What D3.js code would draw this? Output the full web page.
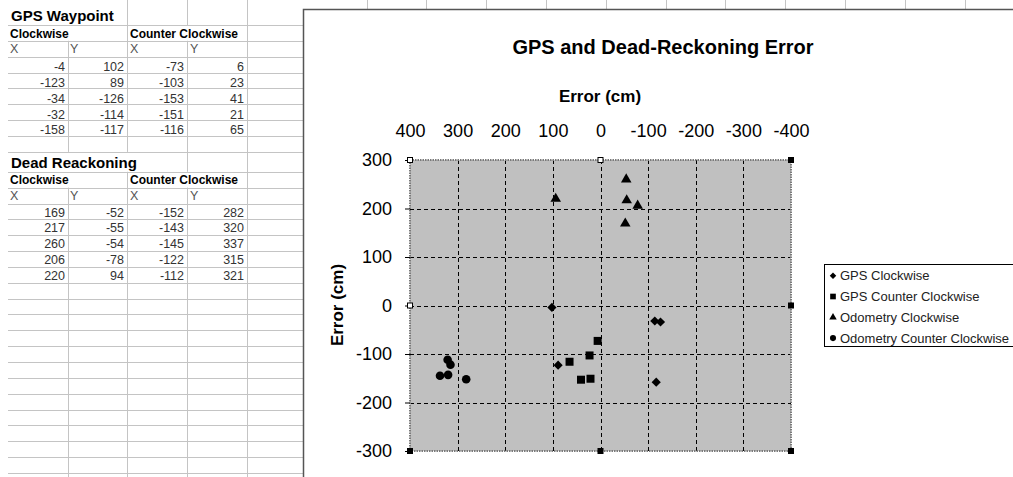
<!DOCTYPE html>
<html>
<head>
<meta charset="utf-8">
<script src="https://cdn.jsdelivr.net/npm/d3@7"></script>
<style>
  body { margin: 0; background: #fff; }
  svg { display: block; font-family: "Liberation Sans", Arial, sans-serif; }
</style>
</head>
<body>
<svg id="sheet" width="1013" height="477"></svg>
<script>
// table values, as typed in the sheet
const gpsCwX = [-4, -123, -34, -32, -158];
const gpsCwY = [102, 89, -126, -114, -117];
const gpsCcwX = [-73, -103, -153, -151, -116];
const gpsCcwY = [6, 23, 41, 21, 65];

const drCwX = [169, 217, 260, 206, 220];
const drCwY = [-52, -55, -54, -78, 94];
const drCcwX = [-152, -143, -145, -122, -112];
const drCcwY = [282, 320, 337, 315, 321];

const seriesNames = ["GPS Clockwise", "GPS Counter Clockwise", "Odometry Clockwise", "Odometry Counter Clockwise"];
const xTicks = [400, 300, 200, 100, 0, -100, -200, -300, -400];
const yTicks = [300, 200, 100, 0, -100, -200, -300];

const svg = d3.select("#sheet");

// ---- spreadsheet grid ----
const grid = svg.append("g").attr("stroke", "#c4c4c4").attr("stroke-width", 1);
const rowLines = [25, 40.8, 56.7, 72.6, 88.4, 104.3, 120.1, 136, 151.9];
for (let k = 0; k < 20; k++) rowLines.push(171.8 + k * 15.85);
grid.selectAll("line.h").data(rowLines).join("line")
  .attr("class", "h")
  .attr("x1", 8).attr("x2", 303)
  .attr("y1", d => Math.round(d) + 0.5).attr("y2", d => Math.round(d) + 0.5);

// vertical column lines, with gaps where header text spills over
const colLines = [
  { x: 67.5, gaps: [[0, 40.8], [151.9, 187.6]] },
  { x: 127, gaps: [[151.9, 171.8]] },
  { x: 187, gaps: [[25, 40.8], [171.8, 187.6]] },
  { x: 247, gaps: [] }
];
colLines.forEach(c => {
  let segs = [], start = 0;
  c.gaps.forEach(g => { segs.push([start, g[0]]); start = g[1]; });
  segs.push([start, 477]);
  segs.forEach(s => {
    grid.append("line")
      .attr("x1", Math.round(c.x) + 0.5).attr("x2", Math.round(c.x) + 0.5)
      .attr("y1", s[0]).attr("y2", s[1]);
  });
});
// sheet column marks showing above the chart
d3.range(12).map(i => 366.6 + i * 59.8).forEach(x => {
  grid.append("line").attr("x1", Math.round(x) + 0.5).attr("x2", Math.round(x) + 0.5)
    .attr("y1", 0).attr("y2", 9);
});

// ---- table text ----
const tbl = svg.append("g");
function block(title, pos, cwX, cwY, ccwX, ccwY) {
  tbl.append("text").attr("x", 11).attr("y", pos.title)
    .attr("font-size", 15).attr("font-weight", "bold").text(title);
  tbl.append("text").attr("x", 10).attr("y", pos.head)
    .attr("font-size", 12).attr("font-weight", "bold").text("Clockwise");
  tbl.append("text").attr("x", 130).attr("y", pos.head)
    .attr("font-size", 12).attr("font-weight", "bold").text("Counter Clockwise");
  [[10, "X"], [70, "Y"], [130, "X"], [190, "Y"]].forEach(([x, t]) => {
    tbl.append("text").attr("x", x).attr("y", pos.xy)
      .attr("font-size", 12.5).attr("fill", "#555").text(t);
  });
  const cols = [[65, cwX], [124, cwY], [184, ccwX], [244, ccwY]];
  cols.forEach(([x, vals]) => {
    tbl.selectAll(null).data(vals).join("text")
      .attr("x", x)
      .attr("y", (d, i) => pos.data + i * 15.85)
      .attr("text-anchor", "end")
      .attr("font-size", 12.5)
      .attr("fill", "#333")
      .text(d => d);
  });
}
block("GPS Waypoint", { title: 21, head: 37.5, xy: 53, data: 71 }, gpsCwX, gpsCwY, gpsCcwX, gpsCcwY);
block("Dead Reackoning", { title: 167.5, head: 184.3, xy: 200, data: 216.5 }, drCwX, drCwY, drCcwX, drCcwY);

// ---- chart object ----
svg.append("rect")
  .attr("x", 303.5).attr("y", 9.5).attr("width", 720).attr("height", 480)
  .attr("fill", "#fff").attr("stroke", "#555").attr("stroke-width", 1.5);

svg.append("text").attr("x", 663).attr("y", 54)
  .attr("text-anchor", "middle").attr("font-size", 20).attr("font-weight", "bold")
  .text("GPS and Dead-Reckoning Error");

const x = d3.scaleLinear().domain([400, -400]).range([410, 791]);
const y = d3.scaleLinear().domain([-300, 300]).range([451, 160]);

// plot area
svg.append("rect")
  .attr("x", x(400)).attr("y", y(300))
  .attr("width", x(-400) - x(400)).attr("height", y(-300) - y(300))
  .attr("fill", "#c0c0c0");

const gl = svg.append("g").attr("stroke", "#000").attr("stroke-width", 1).attr("stroke-dasharray", "4,3");
gl.selectAll("line.v").data(xTicks.filter(d => Math.abs(d) < 400)).join("line")
  .attr("class", "v")
  .attr("x1", d => Math.round(x(d)) + 0.5).attr("x2", d => Math.round(x(d)) + 0.5)
  .attr("y1", y(300)).attr("y2", y(-300));
gl.selectAll("line.hh").data(yTicks.filter(d => Math.abs(d) < 300)).join("line")
  .attr("class", "hh")
  .attr("y1", d => Math.round(y(d)) + 0.5).attr("y2", d => Math.round(y(d)) + 0.5)
  .attr("x1", x(400)).attr("x2", x(-400));

svg.append("rect")
  .attr("x", x(400)).attr("y", y(300))
  .attr("width", x(-400) - x(400)).attr("height", y(-300) - y(300))
  .attr("fill", "none").attr("stroke", "#7a7a7a").attr("stroke-width", 2)
  .attr("stroke-dasharray", "1.5,1");

// axes (Excel uses a plain hyphen for negatives)
const fmt = d => String(d);
const xAxis = svg.append("g").attr("transform", "translate(0,137)")
  .call(d3.axisTop(x).tickValues(xTicks).tickSize(0).tickPadding(0).tickFormat(fmt));
xAxis.select(".domain").remove();
xAxis.selectAll("text").attr("font-size", 18).attr("fill", "#000")
  .attr("font-family", "Liberation Sans, Arial, sans-serif");

const yAxis = svg.append("g").attr("transform", "translate(410,0)")
  .call(d3.axisLeft(y).tickValues(yTicks).tickSize(5).tickPadding(13).tickFormat(fmt));
yAxis.select(".domain").remove();
yAxis.selectAll("line").attr("stroke", "#000");
yAxis.selectAll("text").attr("font-size", 18).attr("fill", "#000")
  .attr("font-family", "Liberation Sans, Arial, sans-serif");

svg.append("text").attr("x", 600).attr("y", 102)
  .attr("text-anchor", "middle").attr("font-size", 17).attr("font-weight", "bold")
  .text("Error (cm)");
svg.append("text")
  .attr("transform", "translate(343,305) rotate(-90)")
  .attr("text-anchor", "middle").attr("font-size", 17).attr("font-weight", "bold")
  .text("Error (cm)");

// series: the chart puts the Y column across and the X column up
const series = [
  { name: seriesNames[0], h: gpsCwY, v: gpsCwX, sym: d3.symbolSquare, size: 42, rot: 45 },
  { name: seriesNames[1], h: gpsCcwY, v: gpsCcwX, sym: d3.symbolSquare, size: 64, rot: 0 },
  { name: seriesNames[2], h: drCwY, v: drCwX, sym: d3.symbolTriangle, size: 48, rot: 0 },
  { name: seriesNames[3], h: drCcwY, v: drCcwX, sym: d3.symbolCircle, size: 58, rot: 0 }
];

const marks = svg.append("g");
series.forEach(s => {
  const pts = s.h.map((d, i) => [d, s.v[i]]);
  marks.selectAll(null).data(pts).join("path")
    .attr("d", d3.symbol(s.sym, s.size))
    .attr("transform", d => `translate(${x(d[0])},${y(d[1])}) rotate(${s.rot})`)
    .attr("fill", "#000");
});

// selection handles of the plot area
const handles = [
  [400, 300, true], [0, 300, true], [-400, 300, false],
  [400, 0, true], [-400, 0, false],
  [400, -300, false], [0, -300, false], [-400, -300, false]
];
svg.selectAll("rect.handle").data(handles).join("rect")
  .attr("class", "handle")
  .attr("x", d => x(d[0]) - 2.5).attr("y", d => y(d[1]) - 2.5)
  .attr("width", 5).attr("height", 5)
  .attr("fill", d => d[2] ? "#fff" : "#000")
  .attr("stroke", "#000").attr("stroke-width", 1);

// legend
const lg = svg.append("g");
lg.append("rect").attr("x", 824.5).attr("y", 264.5).attr("width", 200).attr("height", 82)
  .attr("fill", "#fff").attr("stroke", "#000").attr("stroke-width", 1);
series.forEach((s, i) => {
  const cy = 275.7 + i * 20.8;
  lg.append("path")
    .attr("d", d3.symbol(s.sym, s.size * 0.5))
    .attr("transform", `translate(833,${cy}) rotate(${s.rot})`)
    .attr("fill", "#000");
  lg.append("text").attr("x", 840).attr("y", cy).attr("dy", "0.35em")
    .attr("font-size", 13).attr("fill", "#222").text(s.name);
});
</script>
</body>
</html>
